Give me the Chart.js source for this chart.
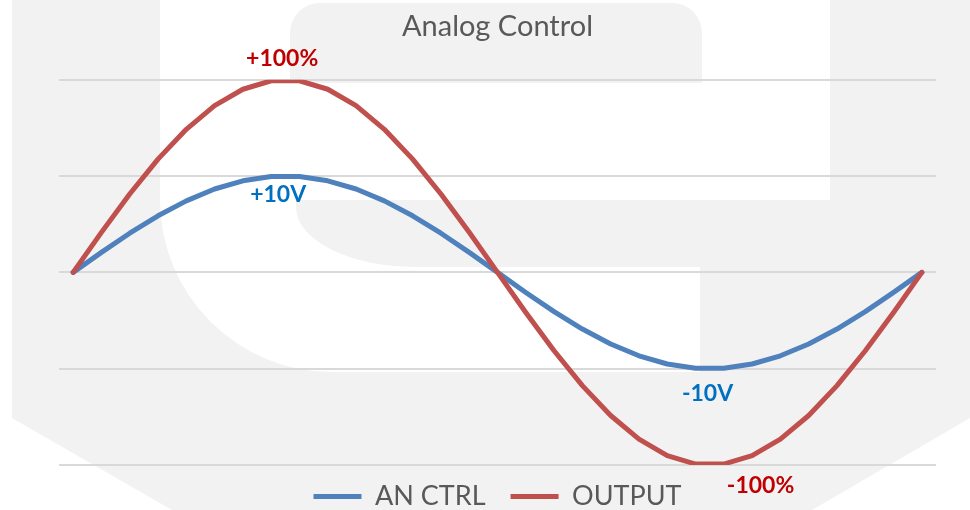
<!DOCTYPE html>
<html>
<head>
<meta charset="utf-8">
<script src="https://cdn.jsdelivr.net/npm/chart.js@4"></script>
<style>
  html, body { margin:0; padding:0; background:#fff; }
  #wrap { width:970px; height:510px; position:relative; }
</style>
</head>
<body>
<div id="wrap"><canvas id="chart" width="970" height="510"></canvas></div>
<script>
// one full cycle, 31 samples
const steps = ['0','1','2','3','4','5','6','7','8','9','10','11','12','13','14','15',
               '16','17','18','19','20','21','22','23','24','25','26','27','28','29','30'];
// AN CTRL in volts
const anCtrl = [0, 2.08, 4.07, 5.88, 7.43, 8.66, 9.51, 9.95, 9.95, 9.51, 8.66, 7.43, 5.88, 4.07, 2.08, 0,
                -2.08, -4.07, -5.88, -7.43, -8.66, -9.51, -9.95, -9.95, -9.51, -8.66, -7.43, -5.88, -4.07, -2.08, 0];
// OUTPUT in percent
const output = [0, 20.8, 40.7, 58.8, 74.3, 86.6, 95.1, 99.5, 99.5, 95.1, 86.6, 74.3, 58.8, 40.7, 20.8, 0,
                -20.8, -40.7, -58.8, -74.3, -86.6, -95.1, -99.5, -99.5, -95.1, -86.6, -74.3, -58.8, -40.7, -20.8, 0];
const percentTicks = [-100, -50, 0, 50, 100];
const peakTexts = ['+100%', '+10V', '-10V', '-100%'];

// faint logo behind the chart
const watermark = {
    id:'watermark',
    beforeDraw(chart){
        const c = chart.ctx;
        c.save();
        c.fillStyle = '#f2f2f2';
        c.fillRect(0,0,970,510);
        c.fillStyle = '#ffffff';
        c.fillRect(0,0,12,510);
        c.beginPath(); c.moveTo(12,418); c.lineTo(172,510); c.lineTo(12,510); c.closePath(); c.fill();
        c.beginPath(); c.moveTo(970,418); c.lineTo(970,510); c.lineTo(812,510); c.closePath(); c.fill();
        c.fillRect(160,0,670,200);
        c.beginPath(); c.roundRect(160,200,540,172,[0,0,0,172]); c.fill();
        c.fillStyle = '#f2f2f2';
        c.beginPath(); c.roundRect(290,3,412,80,[30,30,0,0]); c.fill();
        c.beginPath();
        c.moveTo(296,200); c.lineTo(970,200); c.lineTo(970,267); c.lineTo(416,267);
        c.ellipse(416,207,120,60,0,Math.PI/2,Math.PI);
        c.closePath(); c.fill();
        c.restore();
    }
};

// lift the legend a little so it sits just under the last gridline
const legendLift = {
    id:'legendLift',
    afterLayout(chart){
        const lg = chart.legend;
        lg.top -= 7; lg.bottom -= 7;
    }
};

// bold value notes next to the peaks
const peakNotes = {
    id:'peakNotes',
    afterDatasetsDraw(chart){
        const c = chart.ctx;
        const spots = [
            {ds:1, i:7,  dx:11, dy:-22, color:'#C00000'},
            {ds:0, i:7,  dx:7,  dy:18,  color:'#0070C0'},
            {ds:0, i:22, dx:12, dy:25,  color:'#0070C0'},
            {ds:1, i:22, dx:65, dy:22,  color:'#C00000'}
        ];
        c.save();
        c.font = 'bold 23px Lato';
        c.textAlign = 'center';
        c.textBaseline = 'middle';
        spots.forEach((s, k) => {
            const pt = chart.getDatasetMeta(s.ds).data[s.i];
            c.fillStyle = s.color;
            c.fillText(peakTexts[k], pt.x + s.dx, pt.y + s.dy);
        });
        c.restore();
    }
};

const ctx = document.getElementById('chart').getContext('2d');
new Chart(ctx, {
    type:'line',
    data:{
        labels: steps,
        datasets:[
            {label:'AN CTRL', data:anCtrl, yAxisID:'yV', borderColor:'#4F81BD', backgroundColor:'#4F81BD',
             borderWidth:5, pointRadius:0, tension:0, borderCapStyle:'round', borderJoinStyle:'round', order:1},
            {label:'OUTPUT', data:output, yAxisID:'y', borderColor:'#C0504D', backgroundColor:'#C0504D',
             borderWidth:5, pointRadius:0, tension:0, borderCapStyle:'round', borderJoinStyle:'round', order:0}
        ]
    },
    options:{
        responsive:false,
        animation:false,
        layout:{ padding:{left:59, right:34, top:0, bottom:-17} },
        plugins:{
            title:{ display:true, text:'Analog Control', color:'#595959',
                    font:{family:'Lato', size:29, weight:'normal'}, padding:{top:9, bottom:36} },
            legend:{ position:'bottom',
                     labels:{ usePointStyle:true, pointStyle:'line', pointStyleWidth:48, color:'#595959',
                              font:{family:'Lato', size:27}, padding:25,
                              sort:(a,b) => a.datasetIndex - b.datasetIndex } },
            tooltip:{ enabled:false }
        },
        scales:{
            x:{ offset:true, grid:{display:false}, border:{display:false}, ticks:{display:false},
                afterFit:(s) => { s.height = 0; } },
            y:{ min:-100, max:100, afterBuildTicks:(s) => { s.ticks = percentTicks.map(v => ({value:v})); },
                ticks:{display:false}, border:{display:false},
                grid:{color:'#d9d9d9', lineWidth:2, drawTicks:false} },
            yV:{ display:false, min:-20, max:20 }
        }
    },
    plugins:[watermark, legendLift, peakNotes]
});
</script>
</body>
</html>
